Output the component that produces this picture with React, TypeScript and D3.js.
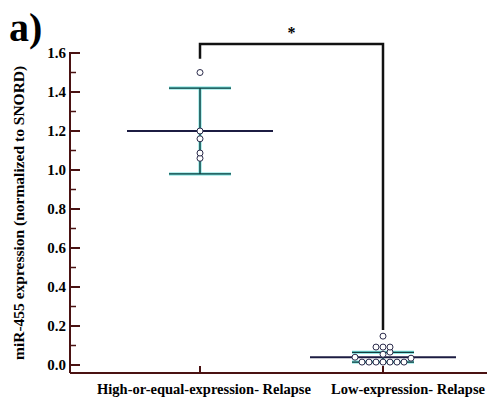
import React from "react";
import * as d3 from "d3";

// groups on the x axis
const categories = ["High-or-equal-expression- Relapse", "Low-expression- Relapse"];
// group means and error (half-range of the bars)
const means = [1.2, 0.04];
const errors = [0.22, 0.025];
// individual samples per group
const highValues = [1.5, 1.2, 1.16, 1.087, 1.06];
const lowValues = [0.148, 0.092, 0.092, 0.092, 0.066, 0.055, 0.04, 0.035,
  0.015, 0.015, 0.015, 0.015, 0.015, 0.015, 0.015];
const yTicks = [0, 0.2, 0.4, 0.6, 0.8, 1.0, 1.2, 1.4, 1.6];
// significance bracket: top level, left foot, right foot
const bracket = {top: 1.646, left: 1.57, right: 0.18};

const W = 487;
const H = 400;

const serif = "'Liberation Serif', 'Times New Roman', serif";
const axisColor = "#4a1212";

export default function App() {
  const y = d3.scaleLinear().domain([-0.041, 1.6]).range([373, 53]);
  const x = d3.scalePoint<string>().domain(categories).range([200, 383]);
  const minor = d3.range(0.1, 1.6, 0.2);

  const r = 3;
  // simple dodge layout so that equal values spread sideways
  const dodge = (vals: number[]) => {
    const placed: {dx: number; py: number; v: number}[] = [];
    const sorted = [...vals].sort((a, b) => a - b);
    sorted.forEach((v) => {
      const py = y(v);
      for (let k = 0; k < 20; k++) {
        const step = Math.ceil(k / 2) * 7 * (k % 2 === 1 ? 1 : -1);
        const ok = placed.every((p) => Math.hypot(p.dx - step, p.py - py) >= 5);
        if (ok) {
          placed.push({dx: step, py, v});
          break;
        }
      }
    });
    return placed;
  };
  const groups = [highValues, lowValues];

  return (
    <svg width={W} height={H} style={{position: "absolute", left: 0, top: 0, background: "#fff"}}>
      <text x={9} y={41} fontFamily={serif} fontWeight="bold" fontSize={40}>a)</text>

      {/* y axis */}
      <line x1={70} x2={70} y1={y(1.6) - 1} y2={373} stroke={axisColor} strokeWidth={2} />
      {yTicks.map((t) => (
        <g key={t}>
          <line x1={70} x2={80} y1={y(t)} y2={y(t)} stroke={axisColor} strokeWidth={2} />
          <text x={66} y={y(t) + 5} textAnchor="end" fontFamily={serif} fontWeight="bold" fontSize={15}>
            {d3.format(".1f")(t)}
          </text>
        </g>
      ))}
      {minor.map((t) => (
        <line key={t} x1={70} x2={76} y1={y(t)} y2={y(t)} stroke={axisColor} strokeWidth={1.5} />
      ))}
      <text transform={`translate(24,${y(0.78)}) rotate(-90)`} textAnchor="middle"
        fontFamily={serif} fontWeight="bold" fontSize={15.5}>
        miR-455 expression (normalized to SNORD)
      </text>

      {/* x axis */}
      <line x1={70} x2={W} y1={373} y2={373} stroke={axisColor} strokeWidth={2} />
      {categories.map((c, i) => (
        <g key={c}>
          <line x1={x(c)} x2={x(c)} y1={366} y2={373} stroke={axisColor} strokeWidth={2} />
          <text x={x(c)! + (i === 0 ? 4 : 25)} y={394} textAnchor="middle" fontFamily={serif}
            fontWeight="bold" fontSize={14.5}>{c}</text>
        </g>
      ))}

      {/* bracket */}
      <path
        d={`M${x(categories[0])},${y(bracket.left)}V${y(bracket.top)}H${x(categories[1])}V${y(bracket.right)}`}
        fill="none" stroke="#111" strokeWidth={2.5} />
      <text x={(x(categories[0])! + x(categories[1])!) / 2} y={38} textAnchor="middle"
        fontFamily={serif} fontWeight="bold" fontSize={16}>*</text>

      {/* means, error bars, points */}
      {categories.map((c, i) => {
        const cx = x(c)!;
        const hi = y(means[i] + errors[i]);
        const lo = y(means[i] - errors[i]);
        const bars = [
          [cx, cx, hi, lo],
          [cx - 31, cx + 31, hi, hi],
          [cx - 31, cx + 31, lo, lo],
        ];
        return (
          <g key={c}>
            {bars.map((b, j) => (
              <line key={"c" + j} x1={b[0]} x2={b[1]} y1={b[2]} y2={b[3]} stroke="#6fe0dc" strokeWidth={3} />
            ))}
            {bars.map((b, j) => (
              <line key={"d" + j} x1={b[0]} x2={b[1]} y1={b[2]} y2={b[3]} stroke="#143c3e" strokeWidth={1.4} />
            ))}
            <line x1={cx - 73} x2={cx + 73} y1={y(means[i])} y2={y(means[i])} stroke="#1c1c42" strokeWidth={2} />
            {dodge(groups[i]).map((p, j) => (
              <circle key={j} cx={cx + p.dx} cy={p.py} r={r} fill="#fff" stroke="#2a2a4a" strokeWidth={1} />
            ))}
          </g>
        );
      })}
    </svg>
  );
}
